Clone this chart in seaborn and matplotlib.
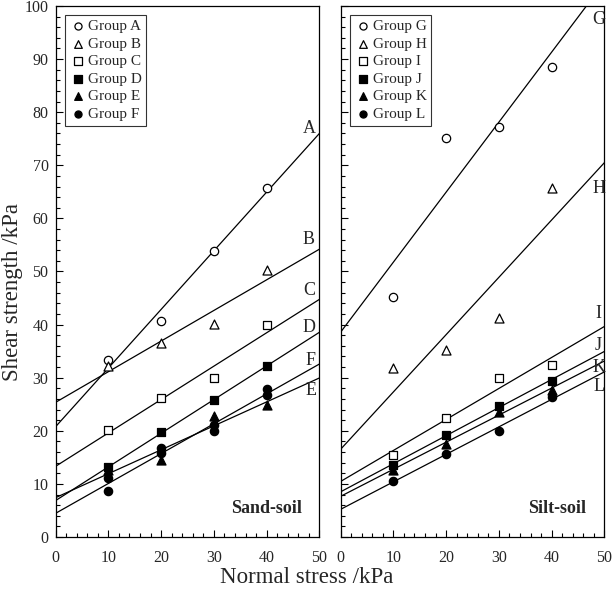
import matplotlib
matplotlib.use("Agg")
import matplotlib.pyplot as plt
from matplotlib.ticker import MultipleLocator
import seaborn as sns
import numpy as np

sns.set_theme(style="ticks")
plt.rcParams['font.family'] = ['Liberation Serif', 'DejaVu Serif']
plt.rcParams['mathtext.fontset'] = 'stix'

# ---------------- data ----------------
stress = [10, 20, 30, 40]
stress_f = [10, 20, 30, 40, 10, 20, 30, 40]

sand_groups = ["A", "B", "C", "D", "E", "F"]
sand_A = [33.3, 40.6, 53.9, 65.7]
sand_B = [32.2, 36.5, 40.2, 50.2]
sand_C = [20.2, 26.1, 29.9, 39.9]
sand_D = [13.1, 19.7, 25.8, 32.2]
sand_E = [12.6, 14.5, 22.7, 24.9]
sand_F = [11.2, 16.8, 21.1, 26.7, 8.6, 15.9, 20.0, 27.8]

silt_groups = ["G", "H", "I", "J", "K", "L"]
silt_G = [45.2, 75.2, 77.2, 88.5]
silt_H = [31.8, 35.2, 41.2, 65.8]
silt_I = [15.4, 22.5, 29.9, 32.4]
silt_J = [13.6, 19.2, 24.7, 29.4]
silt_K = [12.7, 17.6, 23.6, 27.7]
silt_L = [10.6, 15.6, 20.0, 26.4]

x_ticks = [0, 10, 20, 30, 40, 50]
y_ticks = [0, 10, 20, 30, 40, 50, 60, 70, 80, 90, 100]

# ---------------- styles ----------------
marker_styles = [
    dict(marker="o", facecolor="white"),
    dict(marker="^", facecolor="white"),
    dict(marker="s", facecolor="white"),
    dict(marker="s", facecolor="black"),
    dict(marker="^", facecolor="black"),
    dict(marker="o", facecolor="black"),
]

fig = plt.figure(figsize=(6.14, 5.92), dpi=100)
ax1 = fig.add_axes([0.0904, 0.0929, 0.4298, 0.8970])
ax2 = fig.add_axes([0.5546, 0.0929, 0.4298, 0.8970], sharey=ax1)

panels = [
    (ax1, sand_groups, [sand_A, sand_B, sand_C, sand_D, sand_E, sand_F],
     [stress, stress, stress, stress, stress, stress_f], "Sand-soil",
     {"A": (48.0, 77.0), "B": (48.0, 56.1), "C": (48.0, 46.5),
      "D": (48.0, 39.5), "F": (48.4, 33.3), "E": (48.4, 27.5)}),
    (ax2, silt_groups, [silt_G, silt_H, silt_I, silt_J, silt_K, silt_L],
     [stress] * 6, "Silt-soil",
     {"G": (48.9, 97.4), "H": (48.9, 65.7), "I": (48.9, 42.0),
      "J": (48.9, 36.0), "K": (48.9, 32.0), "L": (48.9, 28.4)}),
]

for ax, groups, ys, xs, title, label_pos in panels:
    ax.set_xlim(0, 50)
    ax.set_ylim(0, 100)
    for g, y, x, st in zip(groups, ys, xs, marker_styles):
        sns.regplot(x=np.array(x, float), y=np.array(y, float), ax=ax,
                    scatter=False, ci=None, truncate=False, color="black",
                    line_kws=dict(lw=0.9, zorder=2))
        sns.scatterplot(x=x, y=y, ax=ax, marker=st["marker"],
                        facecolor=st["facecolor"], edgecolor="black",
                        linewidth=0.9, s=36 if st["marker"] != "^" else 42,
                        zorder=3, label=f"Group {g}")
        lx, ly = label_pos[g]
        ax.text(lx, ly, g, ha="center", va="center", fontsize=13)
    ax.text(46.6, 5.4, title, ha="right", va="center", fontsize=13,
            fontweight="bold")
    ax.set_xlim(0, 50)
    ax.set_ylim(0, 100)
    ax.set_xticks(x_ticks)
    ax.set_yticks(y_ticks)
    ax.xaxis.set_minor_locator(MultipleLocator(2))
    ax.yaxis.set_minor_locator(MultipleLocator(2))
    ax.tick_params(which="both", direction="in", top=False, right=False,
                   labelsize=11.5, color="black", width=0.8)
    ax.tick_params(which="major", length=5)
    ax.tick_params(axis="x", which="major", pad=9)
    ax.tick_params(axis="y", which="major", pad=5)
    ax.tick_params(which="minor", length=3)
    for sp in ax.spines.values():
        sp.set_visible(True)
        sp.set_linewidth(0.9)
        sp.set_color("black")
    ax.set_xlabel("")
    ax.set_ylabel("")
    leg = ax.legend(loc="upper left", frameon=True, fontsize=11,
                    handletextpad=0.0, borderpad=0.3, labelspacing=0.25,
                    handlelength=1.2, borderaxespad=0.6, fancybox=False,
                    markerscale=0.85)
    leg.get_frame().set_edgecolor("black")
    leg.get_frame().set_linewidth(0.8)

ax2.tick_params(labelleft=False)
fig.text(12.5 / 614, 1 - 292 / 592, "Shear strength /kPa", rotation=90,
         ha="center", va="center", fontsize=16.5)
fig.text(0.5, 0.024, "Normal stress /kPa", ha="center", va="center",
         fontsize=16.5)

fig.savefig("out.png", dpi=100)
